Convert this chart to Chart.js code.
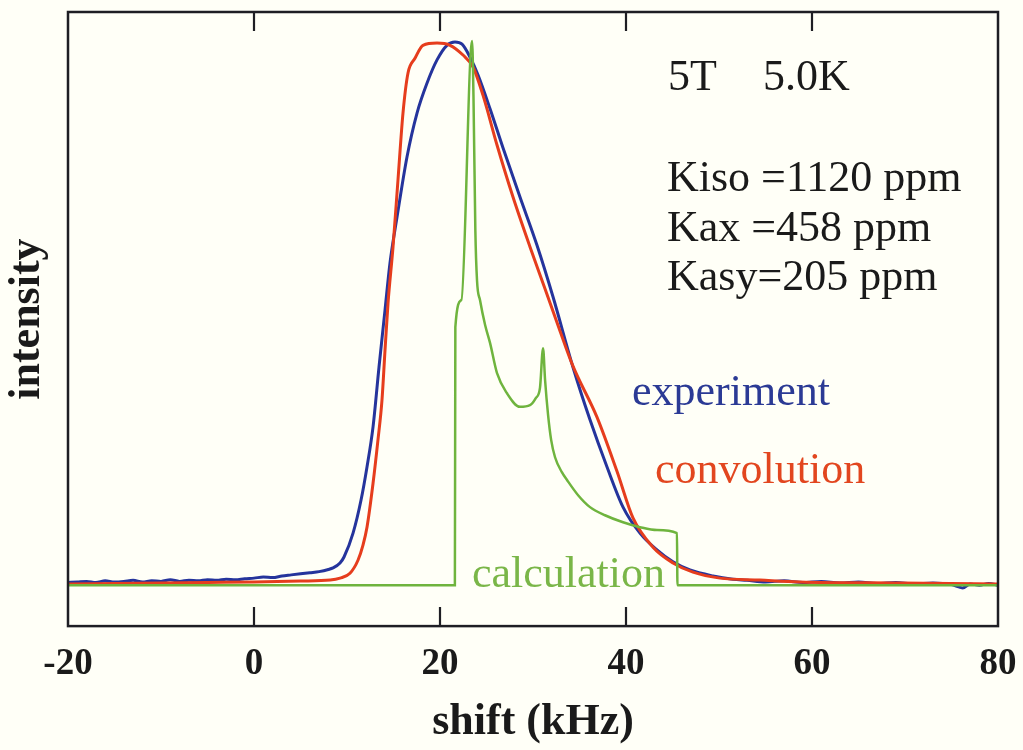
<!DOCTYPE html>
<html>
<head>
<meta charset="utf-8">
<script src="https://cdn.jsdelivr.net/npm/chart.js@4/dist/chart.umd.min.js"></script>
<style>
  html, body { margin: 0; padding: 0; background: #fffff7; }
  canvas { display: block; }
</style>
</head>
<body>
<canvas id="c" width="1023" height="750"></canvas>
<script>
// ---- data (x: shift in kHz, y: normalized intensity) ----
const xTicks = [-20, 0, 20, 40, 60, 80];

const expX = [-20,-19,-18,-17,-16,-15,-14,-13,-12,-11,-10,-9,-8,-7,-6,-5,-4,-3,-2,-1,0,1,2,3,4,5,6,7,8,8.5,9.25,9.68,10.65,11.51,12.15,12.8,13.44,14.09,14.62,15.38,16.45,17.53,18.6,19.68,20.75,21.61,22.37,23.23,24.09,25.38,26.77,28.6,30.43,32.15,34.3,36.13,37.96,39.68,41.5,43.33,45.05,46.88,49.35,51.5,53,55,57,59,61,63,65,67,69,71,73,75,76.2,77,78,79,80];
const expY = [0.003,0.004,0.005,0.003,0.006,0.004,0.005,0.007,0.004,0.006,0.005,0.008,0.005,0.007,0.006,0.008,0.007,0.009,0.008,0.010,0.011,0.013,0.012,0.015,0.017,0.019,0.021,0.023,0.027,0.030,0.039,0.050,0.094,0.155,0.216,0.290,0.400,0.506,0.592,0.677,0.788,0.869,0.924,0.967,0.994,1.000,0.996,0.972,0.939,0.877,0.805,0.714,0.625,0.530,0.400,0.303,0.216,0.142,0.094,0.063,0.041,0.026,0.015,0.009,0.007,0.004,0.006,0.003,0.005,0.002,0.004,0.001,0.003,0.000,0.002,-0.001,-0.007,0.000,-0.002,0.001,-0.002];

const convX = [-20,-15,-10,-5,0,5,8.2,9.25,10.32,11.18,11.72,12.15,12.8,13.33,13.76,14.09,14.41,14.95,15.48,16.02,16.56,17.31,18.17,19.68,21.08,22.47,23.55,24.62,26.13,27.85,29.68,31.29,32.8,34.3,36.88,39.03,40.75,42.9,45.05,47.2,50.1,54.4,58.7,69.46,80];
const convY = [0.000,0.001,0.002,0.003,0.004,0.0055,0.0074,0.011,0.020,0.044,0.072,0.105,0.186,0.266,0.339,0.432,0.518,0.622,0.745,0.869,0.943,0.970,0.994,0.998,0.994,0.976,0.954,0.902,0.810,0.714,0.622,0.545,0.472,0.402,0.308,0.208,0.122,0.068,0.039,0.022,0.011,0.0074,0.004,0.002,0.000];

const calcX = [-20,21.6,21.65,22.3,23.45,23.6,23.8,23.98,24.3,24.85,25.38,26.13,27.2,28.6,29.68,30.3,30.75,31.08,31.3,31.62,31.95,32.37,33.12,33.66,34.85,36.13,37.74,39.68,41.5,43.33,45.48,45.53,80];
const calcY = [-0.002,-0.002,0.474,0.524,1.002,0.900,0.653,0.560,0.524,0.478,0.445,0.389,0.352,0.327,0.330,0.343,0.362,0.435,0.376,0.312,0.266,0.234,0.206,0.192,0.164,0.142,0.127,0.114,0.105,0.0996,0.094,-0.002,-0.002];

const labels = {
  field: "5T", temp: "5.0K",
  kiso: "Kiso =1120 ppm", kax: "Kax =458 ppm", kasy: "Kasy=205 ppm",
  exp: "experiment", conv: "convolution", calc: "calculation"
};

const toPts = (xs, ys) => xs.map((x, i) => ({ x: x, y: ys[i] }));

const SERIF = "'Liberation Serif', 'Times New Roman', serif";

const framePlugin = {
  id: 'frame',
  afterDatasetsDraw(chart) {
    const { ctx, chartArea: a, scales: { x } } = chart;
    ctx.save();
    ctx.strokeStyle = '#1e1e24';
    ctx.lineWidth = 2.5;
    ctx.strokeRect(a.left, a.top, a.right - a.left, a.bottom - a.top);
    ctx.lineWidth = 2.2;
    x.ticks.forEach(t => {
      const px = x.getPixelForValue(t.value);
      if (px <= a.left + 2 || px >= a.right - 2) return;
      ctx.beginPath();
      ctx.moveTo(px, a.bottom); ctx.lineTo(px, a.bottom - 19);
      ctx.moveTo(px, a.top); ctx.lineTo(px, a.top + 19);
      ctx.stroke();
    });
    // annotations
    ctx.font = "44px " + SERIF;
    ctx.textBaseline = 'alphabetic';
    ctx.textAlign = 'left';
    ctx.fillStyle = '#1a1a1a';
    ctx.fillText(labels.field, 668, 90);
    ctx.fillText(labels.temp, 763, 90);
    ctx.fillText(labels.kiso, 667, 191);
    ctx.fillText(labels.kax, 667, 241);
    ctx.fillText(labels.kasy, 667, 290);
    ctx.fillStyle = '#2b3a95';
    ctx.fillText(labels.exp, 632, 405);
    ctx.fillStyle = '#e2461f';
    ctx.fillText(labels.conv, 655, 483);
    ctx.fillStyle = '#7ab648';
    ctx.fillText(labels.calc, 472, 587);
    ctx.restore();
  }
};

new Chart(document.getElementById('c'), {
  type: 'line',
  data: {
    datasets: [
      { label: 'calculation', data: toPts(calcX, calcY), borderColor: '#6fb43e', borderWidth: 2.5, cubicInterpolationMode: 'monotone', pointRadius: 0, order: 0 },
      { label: 'convolution', data: toPts(convX, convY), borderColor: '#e63d1d', borderWidth: 3, cubicInterpolationMode: 'monotone', pointRadius: 0, order: 1 },
      { label: 'experiment', data: toPts(expX, expY), borderColor: '#25349c', borderWidth: 3, cubicInterpolationMode: 'monotone', pointRadius: 0, order: 2 }
    ]
  },
  options: {
    responsive: false,
    animation: false,
    devicePixelRatio: 1,
    layout: { padding: { top: 12, right: 25, left: 0, bottom: 0 } },
    plugins: { legend: { display: false }, tooltip: { enabled: false } },
    scales: {
      x: {
        type: 'linear', min: -20, max: 80,
        afterBuildTicks: s => { s.ticks = xTicks.map(v => ({ value: v })); },
        grid: { display: true, color: 'rgba(0,0,0,0)', drawOnChartArea: false, drawTicks: true, tickLength: 9.5 },
        border: { display: false },
        ticks: { color: '#1a1a1a', padding: 6.5, font: { family: SERIF, size: 37, weight: 'bold' } },
        title: { display: true, text: 'shift (kHz)', color: '#1a1a1a', padding: { top: 8, bottom: 5 }, font: { family: SERIF, size: 44, weight: 'bold', lineHeight: 1 } }
      },
      y: {
        type: 'linear', min: -0.0775, max: 1.0554,
        grid: { display: false, drawTicks: false },
        border: { display: false },
        ticks: { display: false },
        title: { display: true, text: 'intensity', color: '#1a1a1a', padding: { top: 6, bottom: 18 }, font: { family: SERIF, size: 44, weight: 'bold', lineHeight: 1 } }
      }
    }
  },
  plugins: [framePlugin]
});
</script>
</body>
</html>
